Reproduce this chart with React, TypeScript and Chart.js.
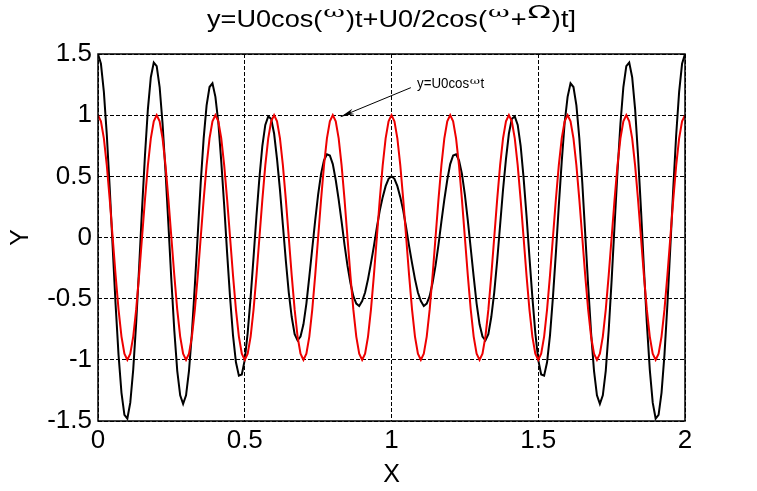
import React, { useEffect, useRef } from "react";
import { Chart, registerables } from "chart.js";

Chart.register(...registerables);

// time samples (t)
const T = [
  0, 0.01, 0.02, 0.03, 0.04, 0.05, 0.06, 0.07, 0.08, 0.09,
  0.1, 0.11, 0.12, 0.13, 0.14, 0.15, 0.16, 0.17, 0.18, 0.19,
  0.2, 0.21, 0.22, 0.23, 0.24, 0.25, 0.26, 0.27, 0.28, 0.29,
  0.3, 0.31, 0.32, 0.33, 0.34, 0.35, 0.36, 0.37, 0.38, 0.39,
  0.4, 0.41, 0.42, 0.43, 0.44, 0.45, 0.46, 0.47, 0.48, 0.49,
  0.5, 0.51, 0.52, 0.53, 0.54, 0.55, 0.56, 0.57, 0.58, 0.59,
  0.6, 0.61, 0.62, 0.63, 0.64, 0.65, 0.66, 0.67, 0.68, 0.69,
  0.7, 0.71, 0.72, 0.73, 0.74, 0.75, 0.76, 0.77, 0.78, 0.79,
  0.8, 0.81, 0.82, 0.83, 0.84, 0.85, 0.86, 0.87, 0.88, 0.89,
  0.9, 0.91, 0.92, 0.93, 0.94, 0.95, 0.96, 0.97, 0.98, 0.99,
  1, 1.01, 1.02, 1.03, 1.04, 1.05, 1.06, 1.07, 1.08, 1.09,
  1.1, 1.11, 1.12, 1.13, 1.14, 1.15, 1.16, 1.17, 1.18, 1.19,
  1.2, 1.21, 1.22, 1.23, 1.24, 1.25, 1.26, 1.27, 1.28, 1.29,
  1.3, 1.31, 1.32, 1.33, 1.34, 1.35, 1.36, 1.37, 1.38, 1.39,
  1.4, 1.41, 1.42, 1.43, 1.44, 1.45, 1.46, 1.47, 1.48, 1.49,
  1.5, 1.51, 1.52, 1.53, 1.54, 1.55, 1.56, 1.57, 1.58, 1.59,
  1.6, 1.61, 1.62, 1.63, 1.64, 1.65, 1.66, 1.67, 1.68, 1.69,
  1.7, 1.71, 1.72, 1.73, 1.74, 1.75, 1.76, 1.77, 1.78, 1.79,
  1.8, 1.81, 1.82, 1.83, 1.84, 1.85, 1.86, 1.87, 1.88, 1.89,
  1.9, 1.91, 1.92, 1.93, 1.94, 1.95, 1.96, 1.97, 1.98, 1.99,
  2,
];

// red curve: y = U0 cos(wt)
const RED = [
  1, 0.95, 0.81, 0.59, 0.31, 0, -0.31, -0.59, -0.81, -0.95, -1, -0.95, -0.81, -0.59, -0.31, 0, 0.31, 0.59, 0.81, 0.95,
  1, 0.95, 0.81, 0.59, 0.31, 0, -0.31, -0.59, -0.81, -0.95, -1, -0.95, -0.81, -0.59, -0.31, 0, 0.31, 0.59, 0.81, 0.95,
  1, 0.95, 0.81, 0.59, 0.31, 0, -0.31, -0.59, -0.81, -0.95, -1, -0.95, -0.81, -0.59, -0.31, 0, 0.31, 0.59, 0.81, 0.95,
  1, 0.95, 0.81, 0.59, 0.31, 0, -0.31, -0.59, -0.81, -0.95, -1, -0.95, -0.81, -0.59, -0.31, 0, 0.31, 0.59, 0.81, 0.95,
  1, 0.95, 0.81, 0.59, 0.31, 0, -0.31, -0.59, -0.81, -0.95, -1, -0.95, -0.81, -0.59, -0.31, 0, 0.31, 0.59, 0.81, 0.95,
  1, 0.95, 0.81, 0.59, 0.31, 0, -0.31, -0.59, -0.81, -0.95, -1, -0.95, -0.81, -0.59, -0.31, 0, 0.31, 0.59, 0.81, 0.95,
  1, 0.95, 0.81, 0.59, 0.31, 0, -0.31, -0.59, -0.81, -0.95, -1, -0.95, -0.81, -0.59, -0.31, 0, 0.31, 0.59, 0.81, 0.95,
  1, 0.95, 0.81, 0.59, 0.31, 0, -0.31, -0.59, -0.81, -0.95, -1, -0.95, -0.81, -0.59, -0.31, 0, 0.31, 0.59, 0.81, 0.95,
  1, 0.95, 0.81, 0.59, 0.31, 0, -0.31, -0.59, -0.81, -0.95, -1, -0.95, -0.81, -0.59, -0.31, 0, 0.31, 0.59, 0.81, 0.95,
  1, 0.95, 0.81, 0.59, 0.31, 0, -0.31, -0.59, -0.81, -0.95, -1, -0.95, -0.81, -0.59, -0.31, 0, 0.31, 0.59, 0.81, 0.95,
  1,
];

// black curve: y = U0 cos(wt) + U0/2 cos((w+W)t)
const BLACK = [
  1.5, 1.42, 1.19, 0.84, 0.4, -0.08, -0.55, -0.96, -1.27, -1.45,
  -1.48, -1.35, -1.08, -0.7, -0.25, 0.23, 0.67, 1.05, 1.31, 1.43,
  1.4, 1.23, 0.93, 0.54, 0.1, -0.35, -0.76, -1.09, -1.29, -1.36,
  -1.29, -1.09, -0.78, -0.39, 0.03, 0.45, 0.81, 1.08, 1.23, 1.26,
  1.15, 0.94, 0.62, 0.26, -0.13, -0.49, -0.8, -1.02, -1.13, -1.12,
  -1.0, -0.78, -0.49, -0.16, 0.18, 0.49, 0.75, 0.92, 0.99, 0.97,
  0.85, 0.64, 0.39, 0.1, -0.19, -0.45, -0.65, -0.79, -0.84, -0.81,
  -0.71, -0.54, -0.32, -0.09, 0.14, 0.35, 0.52, 0.63, 0.68, 0.67,
  0.6, 0.47, 0.31, 0.13, -0.06, -0.23, -0.37, -0.48, -0.54, -0.56,
  -0.52, -0.45, -0.34, -0.21, -0.07, 0.08, 0.22, 0.33, 0.42, 0.48,
  0.5, 0.48, 0.42, 0.33, 0.22, 0.08, -0.07, -0.21, -0.34, -0.45,
  -0.52, -0.56, -0.54, -0.48, -0.37, -0.23, -0.06, 0.13, 0.31, 0.47,
  0.6, 0.67, 0.68, 0.63, 0.52, 0.35, 0.14, -0.09, -0.32, -0.54,
  -0.71, -0.81, -0.84, -0.79, -0.65, -0.45, -0.19, 0.1, 0.39, 0.64,
  0.85, 0.97, 0.99, 0.92, 0.75, 0.49, 0.18, -0.16, -0.49, -0.78,
  -1.0, -1.12, -1.13, -1.02, -0.8, -0.49, -0.13, 0.26, 0.62, 0.94,
  1.15, 1.26, 1.23, 1.08, 0.81, 0.45, 0.03, -0.39, -0.78, -1.09,
  -1.29, -1.36, -1.29, -1.09, -0.76, -0.35, 0.1, 0.54, 0.93, 1.23,
  1.4, 1.43, 1.31, 1.05, 0.67, 0.23, -0.25, -0.7, -1.08, -1.35,
  -1.48, -1.45, -1.27, -0.96, -0.55, -0.08, 0.4, 0.84, 1.19, 1.42,
  1.5,
];

const X_RANGE = [0, 2];
const Y_RANGE = [-1.5, 1.5];
const X_STEP = 0.5;
const Y_STEP = 0.5;

const X_TITLE = "X";
const Y_TITLE = "Y";

// title pieces: [text, kind]
const TITLE_PARTS: [string, string][] = [
  ["y=U0cos(", "main"],
  ["ω", "sup"],
  [")t+U0/2cos(", "main"],
  ["ω", "sup"],
  ["+", "main"],
  ["Ω", "supBig"],
  [")t]", "main"],
];

const NOTE_PARTS: [string, string][] = [
  ["y=U0cos", "main"],
  ["ω", "sup"],
  ["t", "main"],
];
const NOTE_TEXT_AT = [1.087, 1.22];
const NOTE_ARROW_FROM = [1.066, 1.225];
const NOTE_ARROW_TO = [0.827, 0.988];

const SANS = "'Liberation Sans', Arial, sans-serif";

type RunStyle = { font: string; dy: number; sx: number; pad: number };

function drawRuns(
  ctx: CanvasRenderingContext2D,
  parts: [string, string][],
  styles: Record<string, RunStyle>,
  x: number,
  y: number,
  align: "center" | "left"
) {
  let total = 0;
  const widths = parts.map(([t, k]) => {
    const st = styles[k];
    ctx.font = st.font;
    const w = ctx.measureText(t).width * st.sx + st.pad * 2;
    total += w;
    return w;
  });
  let cx = align === "center" ? x - total / 2 : x;
  ctx.textAlign = "left";
  ctx.textBaseline = "alphabetic";
  parts.forEach(([t, k], i) => {
    const st = styles[k];
    ctx.font = st.font;
    ctx.save();
    ctx.translate(cx + st.pad, y + st.dy);
    ctx.scale(st.sx, 1);
    ctx.fillText(t, 0, 0);
    ctx.restore();
    cx += widths[i];
  });
}

const overlayPlugin = {
  id: "overlay",
  afterDraw(chart: any) {
    const ctx: CanvasRenderingContext2D = chart.ctx;
    const { left, right, top, bottom } = chart.chartArea;
    const xs = chart.scales.x;
    const ys = chart.scales.y;
    ctx.save();
    ctx.setLineDash([]);
    ctx.strokeStyle = "#000";
    ctx.lineWidth = 1.5;
    ctx.strokeRect(left, top, right - left, bottom - top);

    ctx.fillStyle = "#000";
    // title
    drawRuns(
      ctx,
      TITLE_PARTS,
      {
        main: { font: `24px ${SANS}`, dy: 0, sx: 1.13, pad: 0 },
        sup: { font: `14px 'DejaVu Serif', serif`, dy: -10, sx: 1.9, pad: 1 },
        supBig: { font: `18px 'DejaVu Sans', sans-serif`, dy: -9, sx: 1.7, pad: 1 },
      },
      (left + right) / 2,
      27,
      "center"
    );

    // axis titles
    ctx.font = `25px ${SANS}`;
    ctx.textAlign = "center";
    ctx.textBaseline = "alphabetic";
    ctx.fillText(X_TITLE, (left + right) / 2, 482);
    ctx.save();
    ctx.translate(28, (top + bottom) / 2);
    ctx.rotate(-Math.PI / 2);
    ctx.fillText(Y_TITLE, 0, 0);
    ctx.restore();

    // annotation
    const tx = xs.getPixelForValue(NOTE_TEXT_AT[0]);
    const ty = ys.getPixelForValue(NOTE_TEXT_AT[1]);
    drawRuns(
      ctx,
      NOTE_PARTS,
      {
        main: { font: `14px ${SANS}`, dy: 0, sx: 0.95, pad: 0 },
        sup: { font: `9px 'DejaVu Serif', serif`, dy: -4, sx: 1.4, pad: 0.5 },
      },
      tx,
      ty,
      "left"
    );
    const ax0 = xs.getPixelForValue(NOTE_ARROW_FROM[0]);
    const ay0 = ys.getPixelForValue(NOTE_ARROW_FROM[1]);
    const ax1 = xs.getPixelForValue(NOTE_ARROW_TO[0]);
    const ay1 = ys.getPixelForValue(NOTE_ARROW_TO[1]);
    ctx.strokeStyle = "#000";
    ctx.lineWidth = 1;
    ctx.beginPath();
    ctx.moveTo(ax0, ay0);
    ctx.lineTo(ax1, ay1);
    ctx.stroke();
    const ang = Math.atan2(ay0 - ay1, ax0 - ax1);
    const len = 14;
    const spread = 0.2;
    ctx.beginPath();
    ctx.moveTo(ax1, ay1);
    ctx.lineTo(ax1 + len * Math.cos(ang + spread), ay1 + len * Math.sin(ang + spread));
    ctx.lineTo(ax1 + len * 0.7 * Math.cos(ang), ay1 + len * 0.7 * Math.sin(ang));
    ctx.lineTo(ax1 + len * Math.cos(ang - spread), ay1 + len * Math.sin(ang - spread));
    ctx.closePath();
    ctx.fill();
    ctx.restore();
  },
};

const fmt = (v: any) => `${Math.round(Number(v) * 100) / 100}`;

export default function App() {
  const ref = useRef<HTMLCanvasElement | null>(null);
  useEffect(() => {
    if (!ref.current) return;
    const chart = new Chart(ref.current, {
      type: "line",
      data: {
        labels: T,
        datasets: [
          {
            label: "y=U0cos(ω)t",
            data: RED,
            borderColor: "#ee0000",
            borderWidth: 2,
            pointRadius: 0,
            tension: 0,
            order: 0,
          },
          {
            label: "y=U0cos(ω)t+U0/2cos(ω+Ω)t",
            data: BLACK,
            borderColor: "#000000",
            borderWidth: 2,
            pointRadius: 0,
            tension: 0,
            order: 1,
          },
        ],
      },
      options: {
        animation: false,
        responsive: false,
        devicePixelRatio: 1,
        layout: { padding: { top: 54, right: 72, left: 0, bottom: 0 } },
        plugins: {
          legend: { display: false },
          title: { display: false },
          tooltip: { enabled: false },
        },
        scales: {
          x: {
            type: "linear",
            min: X_RANGE[0],
            max: X_RANGE[1],
            ticks: {
              stepSize: X_STEP,
              color: "#000",
              font: { family: SANS, size: 26 },
              padding: 4,
              maxRotation: 0,
              autoSkip: false,
              callback: fmt,
            },
            grid: { color: "#000", lineWidth: 1, drawTicks: false },
            border: { display: false, dash: [4, 2] },
            afterFit: (s: any) => {
              s.height = 70;
            },
          },
          y: {
            type: "linear",
            min: Y_RANGE[0],
            max: Y_RANGE[1],
            ticks: {
              stepSize: Y_STEP,
              color: "#000",
              font: { family: SANS, size: 26 },
              padding: 6,
              autoSkip: false,
              callback: fmt,
            },
            grid: { color: "#000", lineWidth: 1, drawTicks: false },
            border: { display: false, dash: [4, 2] },
            afterFit: (s: any) => {
              s.width = 98;
            },
          },
        },
      },
      plugins: [overlayPlugin],
    } as any);
    return () => chart.destroy();
  }, []);
  return (
    <div style={{ position: "absolute", left: 0, top: 0, width: 757, height: 491, background: "#fff" }}>
      <canvas ref={ref} width={757} height={491} style={{ display: "block" }} />
    </div>
  );
}
